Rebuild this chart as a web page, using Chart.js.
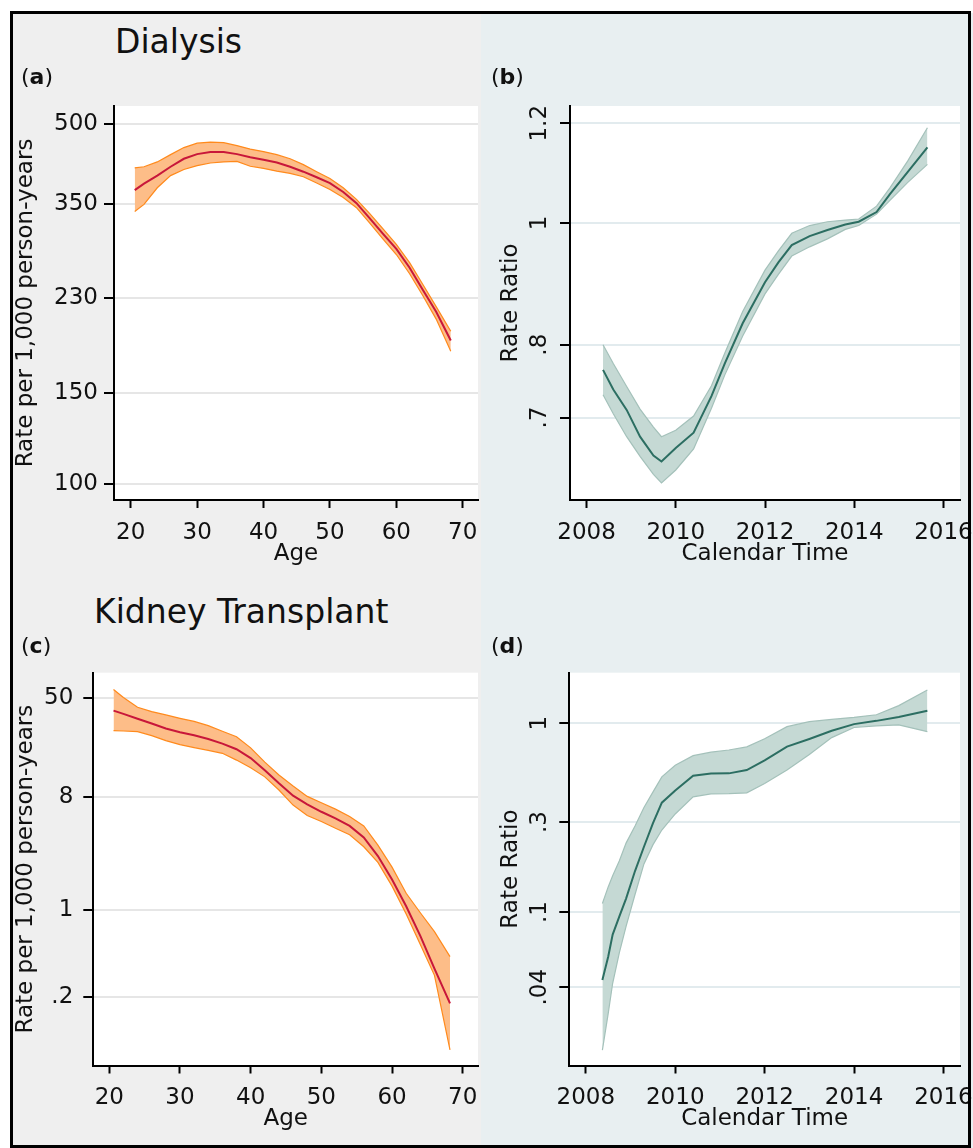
<!DOCTYPE html>
<html>
<head>
<meta charset="utf-8">
<title>Dialysis and Kidney Transplant rates</title>
<script src="https://cdn.jsdelivr.net/npm/chart.js@4.4.1/dist/chart.umd.min.js"></script>
<style>
  html, body { margin: 0; padding: 0; background: #fff; overflow: hidden; }
  #fig { position: relative; width: 973px; height: 1148px; overflow: hidden; background: #fff;
         font-family: "DejaVu Sans", sans-serif; color: #111; }
  .bg, canvas, .txt { position: absolute; }
  .txt { white-space: nowrap; }
  .title { font-size: 33px; line-height: 33px; }
  .tag { font-size: 22px; line-height: 22px; }
  #frame { position: absolute; left: 10px; top: 11px; width: 961px; height: 1137px;
           border: 3px solid #000; box-sizing: border-box; z-index: 5; }
</style>
</head>
<body>
<div id="fig">
  <!-- graph region backgrounds: grey on the left, bluish grey on the right -->
  <div class="bg" style="left:12px;top:13px;width:469px;height:1135px;background:#efefef"></div>
  <div class="bg" style="left:481px;top:13px;width:492px;height:1135px;background:#e8eff1"></div>

  <canvas id="chartA" width="485" height="495" style="left:12px;top:80px"></canvas>
  <canvas id="chartB" width="510" height="495" style="left:481px;top:80px"></canvas>
  <canvas id="chartC" width="485" height="495" style="left:12px;top:645px"></canvas>
  <canvas id="chartD" width="510" height="495" style="left:481px;top:645px"></canvas>

  <div class="txt title" style="left:115px;top:25px">Dialysis</div>
  <div class="txt title" style="left:94px;top:595px">Kidney Transplant</div>
  <div class="txt tag" style="left:21px;top:66px">(<b>a</b>)</div>
  <div class="txt tag" style="left:491px;top:66px">(<b>b</b>)</div>
  <div class="txt tag" style="left:21px;top:635px">(<b>c</b>)</div>
  <div class="txt tag" style="left:491px;top:635px">(<b>d</b>)</div>

  <div id="frame"></div>
</div>

<script>
// ---- (a) Dialysis rate by age, per 1,000 person-years ----
const ageA = [20.6, 22, 24, 26, 28, 30, 32, 34, 36, 38, 40, 42, 44, 46, 48, 50, 52, 54, 56, 58, 60, 62, 64, 66, 68.2];
const rateA = [372, 383, 397, 413, 428, 437, 441, 441, 437, 431, 426, 421, 413, 404, 394, 384, 369, 351, 328, 306, 286, 263, 238, 216, 190];
const rateALow = [338, 349, 376, 397, 408, 415, 420, 422, 423, 414, 410, 405, 401, 395, 384, 373, 360, 344, 321, 299, 279, 256, 232, 209, 181];
const rateAHigh = [411, 413, 422, 436, 450, 459, 461, 460, 454, 447, 442, 436, 428, 417, 404, 392, 376, 357, 335, 313, 292, 269, 244, 221, 198];

// ---- (b) Dialysis rate ratio by calendar time ----
const yearB = [2008.37, 2008.6, 2008.9, 2009.2, 2009.5, 2009.68, 2010.0, 2010.4, 2010.8, 2011.1, 2011.5, 2012.0, 2012.3, 2012.6, 2013.0, 2013.4, 2013.8, 2014.1, 2014.5, 2014.8, 2015.2, 2015.64];
const ratioB = [0.764, 0.737, 0.710, 0.676, 0.653, 0.646, 0.662, 0.681, 0.728, 0.773, 0.832, 0.897, 0.930, 0.960, 0.976, 0.987, 0.997, 1.002, 1.020, 1.054, 1.098, 1.148];
const ratioBLow = [0.730, 0.705, 0.676, 0.652, 0.631, 0.621, 0.636, 0.661, 0.712, 0.757, 0.813, 0.878, 0.910, 0.941, 0.957, 0.971, 0.988, 0.995, 1.016, 1.042, 1.077, 1.113];
const ratioBHigh = [0.800, 0.773, 0.741, 0.711, 0.688, 0.676, 0.684, 0.702, 0.742, 0.788, 0.850, 0.917, 0.950, 0.981, 0.995, 1.002, 1.005, 1.007, 1.031, 1.066, 1.120, 1.190];

// ---- (c) Kidney transplant rate by age ----
const ageC = [20.6, 22, 24, 26, 28, 30, 32, 34, 36, 38, 40, 42, 44, 46, 48, 50, 52, 54, 56, 58, 60, 62, 64, 66, 68.2];
const rateC = [39.3, 37, 33.8, 31, 28.3, 26.4, 25.0, 23.3, 21.4, 19.3, 16.4, 13.1, 10.3, 8.2, 7.0, 6.1, 5.4, 4.7, 3.8, 2.7, 1.75, 1.07, 0.62, 0.34, 0.179];
const rateCLow = [27.2, 27.0, 26.7, 24.8, 22.6, 21.0, 19.9, 18.9, 17.9, 15.8, 13.7, 11.6, 9.1, 6.9, 5.7, 5.1, 4.5, 4.0, 3.2, 2.4, 1.55, 0.93, 0.53, 0.30, 0.076];
const rateCHigh = [58, 50, 41.8, 38.6, 36.3, 34.1, 32.2, 29.8, 26.9, 24.3, 19.8, 15.2, 12.0, 9.8, 8.1, 7.2, 6.4, 5.6, 4.7, 3.3, 2.2, 1.36, 0.95, 0.67, 0.423];

// ---- (d) Kidney transplant rate ratio by calendar time ----
const yearD = [2008.37, 2008.5, 2008.6, 2008.75, 2008.9, 2009.1, 2009.3, 2009.5, 2009.7, 2010.0, 2010.4, 2010.8, 2011.2, 2011.6, 2012.0, 2012.5, 2013.0, 2013.5, 2014.0, 2014.5, 2015.0, 2015.64];
const ratioD = [0.0437, 0.058, 0.076, 0.095, 0.118, 0.165, 0.222, 0.295, 0.380, 0.441, 0.527, 0.542, 0.543, 0.565, 0.637, 0.752, 0.826, 0.913, 0.99, 1.03, 1.08, 1.166];
const ratioDLow = [0.0186, 0.029, 0.042, 0.061, 0.084, 0.124, 0.180, 0.227, 0.272, 0.331, 0.408, 0.423, 0.424, 0.428, 0.480, 0.565, 0.684, 0.84, 0.95, 0.97, 0.98, 0.903];
const ratioDHigh = [0.111, 0.136, 0.156, 0.187, 0.232, 0.286, 0.358, 0.432, 0.520, 0.600, 0.674, 0.703, 0.722, 0.750, 0.828, 0.960, 1.02, 1.048, 1.075, 1.11, 1.24, 1.50];

// ---- tick values and labels ----
const ageTicks = [20, 30, 40, 50, 60, 70];
const yearTicks = [2008, 2010, 2012, 2014, 2016];
const rateTicksA = [100, 150, 230, 350, 500];
const rateLabelsA = ["100", "150", "230", "350", "500"];
const ratioTicksB = [0.7, 0.8, 1, 1.2];
const ratioLabelsB = [".7", ".8", "1", "1.2"];
const rateTicksC = [0.2, 1, 8, 50];
const rateLabelsC = [".2", "1", "8", "50"];
const ratioTicksD = [0.04, 0.1, 0.3, 1];
const ratioLabelsD = [".04", ".1", ".3", "1"];

Chart.defaults.font.family = '"DejaVu Sans", sans-serif';
Chart.defaults.color = "#111";

const TEXT = "#111";

// white plot region behind the data
const plotBg = {
  id: "plotBg",
  beforeDraw(chart) {
    const a = chart.chartArea;
    chart.ctx.save();
    chart.ctx.fillStyle = "#ffffff";
    chart.ctx.fillRect(a.left, a.top, a.right - a.left, a.bottom - a.top);
    chart.ctx.restore();
  }
};

// Stata style vertical y tick labels (reading bottom to top)
function rotatedTicks(values, labels, x) {
  return {
    id: "rotTicks",
    afterDraw(chart) {
      const ctx = chart.ctx;
      const scale = chart.scales.y;
      ctx.save();
      ctx.font = '23px "DejaVu Sans", sans-serif';
      ctx.fillStyle = TEXT;
      ctx.textAlign = "center";
      ctx.textBaseline = "middle";
      values.forEach((v, i) => {
        ctx.save();
        ctx.translate(x, scale.getPixelForValue(v));
        ctx.rotate(-Math.PI / 2);
        ctx.fillText(labels[i], 0, 0);
        ctx.restore();
      });
      ctx.restore();
    }
  };
}

const pts = (xs, ys) => xs.map((x, i) => ({ x: x, y: ys[i] }));

// one panel = estimate line + confidence band on a log y axis
function makePanel(id, p) {
  const plugins = [plotBg];
  if (p.rotTicks) plugins.push(rotatedTicks(p.yTicks, p.yLabels, p.rotX));

  return new Chart(document.getElementById(id), {
    type: "line",
    data: {
      datasets: [
        { data: pts(p.x, p.mid), borderColor: p.line, borderWidth: 2, pointRadius: 0, fill: false, tension: 0 },
        { data: pts(p.x, p.hi), borderColor: p.edge, borderWidth: 1.2, backgroundColor: p.band, pointRadius: 0, fill: "+1", tension: 0 },
        { data: pts(p.x, p.lo), borderColor: p.edge, borderWidth: 1.2, pointRadius: 0, fill: false, tension: 0 }
      ]
    },
    options: {
      responsive: false,
      animation: false,
      events: [],
      layout: { padding: p.pad },
      plugins: {
        legend: { display: false },
        tooltip: { enabled: false },
        filler: { drawTime: "beforeDatasetsDraw" }
      },
      scales: {
        x: {
          type: "linear",
          min: p.xMin,
          max: p.xMax,
          afterBuildTicks: (s) => { s.ticks = p.xTicks.map((v) => ({ value: v })); },
          afterFit: (s) => { s.height = p.xH; },
          ticks: { autoSkip: false, maxRotation: 0, padding: 11, font: { size: 23 }, color: TEXT,
                   callback: (v) => String(v) },
          grid: { drawOnChartArea: false, tickLength: 8, tickColor: "#000", tickWidth: 2 },
          border: { display: true, color: "#000", width: 2 },
          title: { display: true, text: p.xTitle, color: TEXT, font: { size: 23 }, padding: { top: 0, bottom: 7 } }
        },
        y: {
          type: "logarithmic",
          min: p.yMin,
          max: p.yMax,
          afterBuildTicks: (s) => { s.ticks = p.yTicks.map((v) => ({ value: v })); },
          afterFit: (s) => { s.width = p.yW; },
          ticks: { display: !p.rotTicks, autoSkip: false, padding: p.yPad, font: { size: 23 }, color: TEXT,
                   callback: (v, i) => p.yLabels[i] },
          grid: { color: p.grid, lineWidth: 2, tickLength: 10, tickColor: "#000", tickWidth: 2 },
          border: { display: true, color: "#000", width: 2 },
          title: { display: true, text: p.yTitle, color: TEXT, font: { size: 23 }, padding: { top: p.yTitlePad, bottom: 0 } }
        }
      }
    },
    plugins: plugins
  });
}

const orange = { line: "#c8173a", edge: "#ff8a1c", band: "#fdbd88", grid: "#e6e6e6" };
const teal = { line: "#2c6e62", edge: "#a4c1ba", band: "#c5d9d4", grid: "#e2ebee" };

makePanel("chartA", Object.assign({}, orange, {
  x: ageA, mid: rateA, lo: rateALow, hi: rateAHigh,
  xMin: 17.48, xMax: 72.3, xTicks: ageTicks, xTitle: "Age", xH: 75,
  yMin: 93.1, yMax: 541.9, yTicks: rateTicksA, yLabels: rateLabelsA, yW: 102, yPad: 6,
  yTitle: "Rate per 1,000 person-years", yTitlePad: 0,
  pad: { left: 0, top: 26, right: 19, bottom: 0 }
}));

makePanel("chartB", Object.assign({}, teal, {
  x: yearB, mid: ratioB, lo: ratioBLow, hi: ratioBHigh,
  xMin: 2007.63, xMax: 2016.37, xTicks: yearTicks, xTitle: "Calendar Time", xH: 75,
  yMin: 0.602, yMax: 1.2385, yTicks: ratioTicksB, yLabels: ratioLabelsB, yW: 89, yPad: 4,
  rotTicks: true, rotX: 58.6,
  yTitle: "Rate Ratio", yTitlePad: 16,
  pad: { left: 0, top: 26, right: 31, bottom: 0 }
}));

makePanel("chartC", Object.assign({}, orange, {
  x: ageC, mid: rateC, lo: rateCLow, hi: rateCHigh,
  xMin: 17.74, xMax: 72.16, xTicks: ageTicks, xTitle: "Age", xH: 74.5,
  yMin: 0.057, yMax: 79, yTicks: rateTicksC, yLabels: rateLabelsC, yW: 81.3, yPad: 10,
  yTitle: "Rate per 1,000 person-years", yTitlePad: 0,
  pad: { left: 0, top: 27.7, right: 19, bottom: 0 }
}));

makePanel("chartD", Object.assign({}, teal, {
  x: yearD, mid: ratioD, lo: ratioDLow, hi: ratioDHigh,
  xMin: 2007.63, xMax: 2016.37, xTicks: yearTicks, xTitle: "Calendar Time", xH: 74.5,
  yMin: 0.01541, yMax: 1.853, yTicks: ratioTicksD, yLabels: ratioLabelsD, yW: 88.3, yPad: 4,
  rotTicks: true, rotX: 58.6,
  yTitle: "Rate Ratio", yTitlePad: 16,
  pad: { left: 0, top: 27.7, right: 31, bottom: 0 }
}));
</script>
</body>
</html>
